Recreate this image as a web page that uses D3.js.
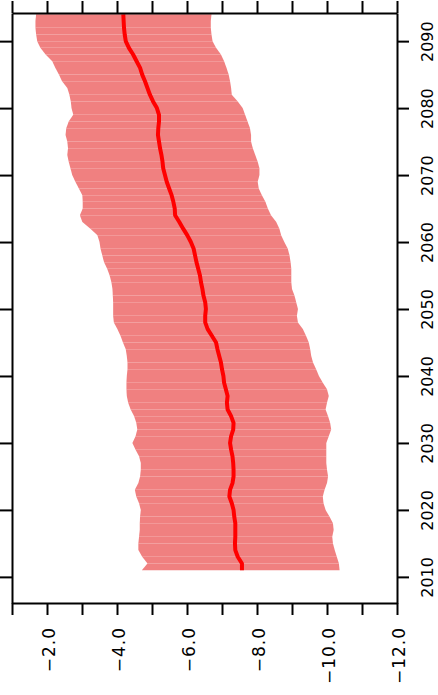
<!DOCTYPE html>
<html>
<head>
<meta charset="utf-8">
<script src="https://cdn.jsdelivr.net/npm/d3@7"></script>
<style>
  body { margin: 0; background: #fff; }
  text { font-family: "DejaVu Sans", sans-serif; fill: #000; }
</style>
</head>
<body>
<svg id="chart" width="438" height="695"></svg>
<script>
// years of the ensemble (2011 .. 2094)
const years = d3.range(2011, 2095);

// less negative edge of the spread (left side of the band)
const upper = [
  -4.71, -4.87, -4.72, -4.61, -4.61, -4.63, -4.65, -4.65, -4.66, -4.68,
  -4.63, -4.55, -4.51, -4.61, -4.66, -4.68, -4.68, -4.63, -4.53, -4.44,
  -4.53, -4.58, -4.55, -4.49, -4.39, -4.32, -4.28, -4.27, -4.27, -4.28,
  -4.30, -4.30, -4.28, -4.25, -4.17, -4.10, -4.01, -3.91, -3.89, -3.89,
  -3.89, -3.88, -3.87, -3.84, -3.79, -3.72, -3.63, -3.58, -3.53, -3.50,
  -3.44, -3.24, -3.01, -2.94, -3.02, -3.02, -3.01, -2.91, -2.81, -2.72,
  -2.67, -2.62, -2.58, -2.60, -2.58, -2.53, -2.55, -2.62, -2.75, -2.70,
  -2.68, -2.64, -2.58, -2.43, -2.34, -2.24, -2.15, -1.96, -1.81, -1.72,
  -1.69, -1.67, -1.67, -1.69
];

// more negative edge of the spread (right side of the band)
const lower = [
  -10.36, -10.34, -10.28, -10.22, -10.17, -10.15, -10.19, -10.17, -10.07, -9.96,
  -9.90, -9.88, -9.93, -10.00, -10.03, -10.00, -9.98, -9.98, -9.98, -9.98,
  -10.05, -10.12, -10.09, -10.03, -9.96, -10.00, -10.05, -10.00, -9.88, -9.77,
  -9.69, -9.60, -9.55, -9.52, -9.48, -9.40, -9.31, -9.17, -9.14, -9.17,
  -9.12, -9.07, -9.00, -8.98, -8.98, -8.98, -8.96, -8.93, -8.88, -8.78,
  -8.69, -8.64, -8.55, -8.40, -8.31, -8.24, -8.14, -8.05, -8.02, -8.07,
  -8.07, -8.02, -7.95, -7.88, -7.83, -7.83, -7.80, -7.73, -7.66, -7.59,
  -7.45, -7.28, -7.26, -7.23, -7.19, -7.13, -7.06, -6.97, -6.83, -6.73,
  -6.70, -6.68, -6.68, -6.70
];

// ensemble mean (red line)
const mean = [
  -7.57, -7.57, -7.45, -7.38, -7.37, -7.38, -7.38, -7.38, -7.35, -7.33,
  -7.28, -7.21, -7.23, -7.30, -7.33, -7.33, -7.32, -7.30, -7.26, -7.23,
  -7.26, -7.32, -7.33, -7.26, -7.16, -7.14, -7.16, -7.11, -7.06, -7.04,
  -7.00, -6.97, -6.92, -6.87, -6.83, -6.71, -6.59, -6.52, -6.52, -6.54,
  -6.52, -6.47, -6.44, -6.40, -6.37, -6.32, -6.27, -6.23, -6.19, -6.11,
  -6.01, -5.89, -5.78, -5.66, -5.65, -5.61, -5.56, -5.49, -5.42, -5.37,
  -5.32, -5.30, -5.27, -5.23, -5.20, -5.17, -5.18, -5.20, -5.20, -5.14,
  -5.03, -4.94, -4.87, -4.80, -4.72, -4.66, -4.56, -4.46, -4.34, -4.25,
  -4.22, -4.20, -4.19, -4.18
];

const valueTicks = [-1, -2, -3, -4, -5, -6, -7, -8, -9, -10, -11, -12];
const valueLabels = [-2, -4, -6, -8, -10, -12];
const yearTicks = [2010, 2020, 2030, 2040, 2050, 2060, 2070, 2080, 2090];

const svg = d3.select("#chart");
const plotL = 12, plotR = 397, plotT = 13, plotB = 603;

const x = d3.scaleLinear().domain([-1, -12]).range([plotL, plotR]);
const y = d3.scaleLinear().domain([2006.1, 2094.2]).range([plotB, plotT]);

svg.append("defs").append("clipPath").attr("id", "plotClip")
  .append("rect")
  .attr("x", plotL).attr("y", plotT)
  .attr("width", plotR - plotL).attr("height", plotB - plotT);

const plot = svg.append("g").attr("clip-path", "url(#plotClip)");

// spread band, one polygon per year step
const segs = d3.range(years.length - 1);
plot.selectAll(".seg")
  .data(segs)
  .join("path")
  .attr("class", "seg")
  .attr("fill", "#f08080")
  .attr("d", i => {
    const pts = [
      [x(upper[i]), y(years[i])],
      [x(upper[i + 1]), y(years[i + 1])],
      [x(lower[i + 1]), y(years[i + 1])],
      [x(lower[i]), y(years[i])]
    ];
    return "M" + pts.map(p => p.join(",")).join("L") + "Z";
  });

// mean line
const line = d3.line()
  .x((d, i) => x(mean[i]))
  .y(d => y(d));

plot.append("path")
  .datum(years)
  .attr("fill", "none")
  .attr("stroke", "#ff0000")
  .attr("stroke-width", 4)
  .attr("stroke-linejoin", "round")
  .attr("d", line);

// axes
const fmt = d3.format(".1f");

const xBottom = d3.axisBottom(x)
  .tickValues(valueTicks)
  .tickSize(12)
  .tickSizeOuter(0)
  .tickFormat(d => valueLabels.includes(d) ? fmt(d) : "");

const gB = svg.append("g")
  .attr("transform", `translate(0,${plotB})`)
  .call(xBottom);
gB.selectAll("text")
  .attr("x", 0).attr("y", 0)
  .attr("dy", "0.35em")
  .attr("text-anchor", "end")
  .attr("transform", "translate(2,24) rotate(-90)")
  .style("font-size", "17px")
  .style("letter-spacing", "1px");

const xTop = d3.axisTop(x)
  .tickValues(valueTicks)
  .tickSize(12)
  .tickSizeOuter(0)
  .tickFormat("");
svg.append("g").attr("transform", `translate(0,${plotT})`).call(xTop);

const yLeft = d3.axisLeft(y)
  .tickValues(yearTicks)
  .tickSize(12)
  .tickSizeOuter(0)
  .tickFormat("");
svg.append("g").attr("transform", `translate(${plotL},0)`).call(yLeft);

const yRight = d3.axisRight(y)
  .tickValues(yearTicks)
  .tickSize(12)
  .tickSizeOuter(0)
  .tickFormat(d3.format("d"));
const gR = svg.append("g")
  .attr("transform", `translate(${plotR},0)`)
  .call(yRight);
gR.selectAll("text")
  .attr("x", 0).attr("y", 0)
  .attr("dy", "0.35em")
  .attr("text-anchor", "middle")
  .attr("transform", "translate(30,0) rotate(-90)")
  .style("font-size", "16px");

svg.selectAll(".domain, .tick line")
  .attr("stroke", "#000")
  .attr("stroke-width", 2);
</script>
</body>
</html>
